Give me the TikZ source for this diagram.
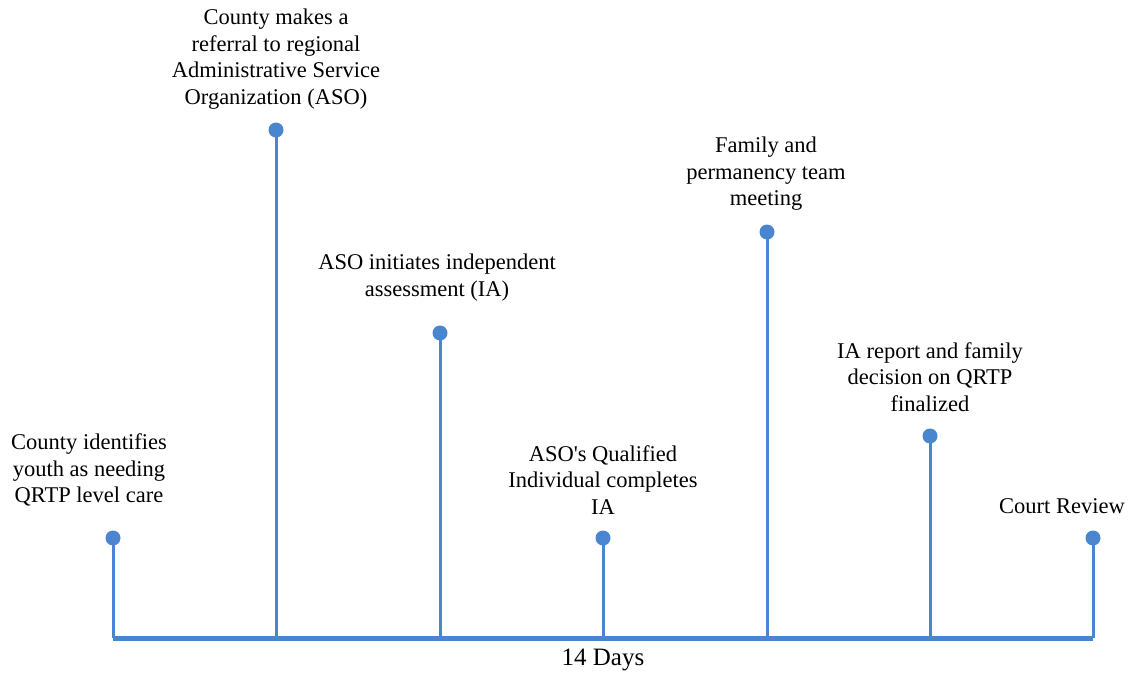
\documentclass[tikz,border=0pt]{standalone}
\usepackage{fontspec}
\setmainfont{Liberation Serif}
\usetikzlibrary{positioning,calc}
\definecolor{lineblue}{HTML}{4A86CF}

\tikzset{
  dot/.style={circle,fill=lineblue,inner sep=0pt,minimum size=15pt},
  stem/.style={draw=lineblue,line width=3pt},
  axis/.style={draw=lineblue,line width=5pt},
  lbl/.style={align=center,font=\fontsize{22.5}{26.5}\selectfont,inner sep=0pt}
}

\begin{document}
\begin{tikzpicture}[x=1pt,y=-1pt]
  \useasboundingbox (0,0) rectangle (1130,674);

  % points on the axis
  \coordinate (b1) at (113,638);
  \coordinate (b2) at (276,638);
  \coordinate (b3) at (440,638);
  \coordinate (b4) at (603,638);
  \coordinate (b5) at (767,638);
  \coordinate (b6) at (930,638);
  \coordinate (b7) at (1093,638);

  % dots
  \node[dot] (d1) at (113,538) {};
  \node[dot] (d2) at (276,130) {};
  \node[dot] (d3) at (440,333) {};
  \node[dot] (d4) at (603,538) {};
  \node[dot] (d5) at (767,232) {};
  \node[dot] (d6) at (930,436) {};
  \node[dot] (d7) at (1093,538) {};

  \draw[stem] (d1.center) -- (b1);
  \draw[stem] (d2.center) -- (b2);
  \draw[stem] (d3.center) -- (b3);
  \draw[stem] (d4.center) -- (b4);
  \draw[stem] (d5.center) -- (b5);
  \draw[stem] (d6.center) -- (b6);
  \draw[stem] (d7.center) -- (b7);
  \draw[axis] (b1) -- (b7);

  % labels
  \node[lbl] (t1) at (89,470) {County identifies\\youth as needing\\QRTP level care};
  \node[lbl] (t2) at (276,59) {County makes a\\referral to regional\\Administrative Service\\Organization (ASO)};
  \node[lbl] (t3) at (437,277.5) {ASO initiates independent\\assessment (IA)};
  \node[lbl] (t4) at (603,480) {ASO\textquotesingle s Qualified\\Individual completes\\IA};
  \node[lbl] (t5) at (766,174) {Family and\\permanency team\\meeting};
  \node[lbl] (t6) at (930,377) {IA report and family\\decision on QRTP\\finalized};
  \node[lbl] (t7) at (1062,506) {Court Review};
  \node[lbl,font=\fontsize{25}{29}\selectfont] (days) at (603,660) {14 Days};
\end{tikzpicture}
\end{document}
